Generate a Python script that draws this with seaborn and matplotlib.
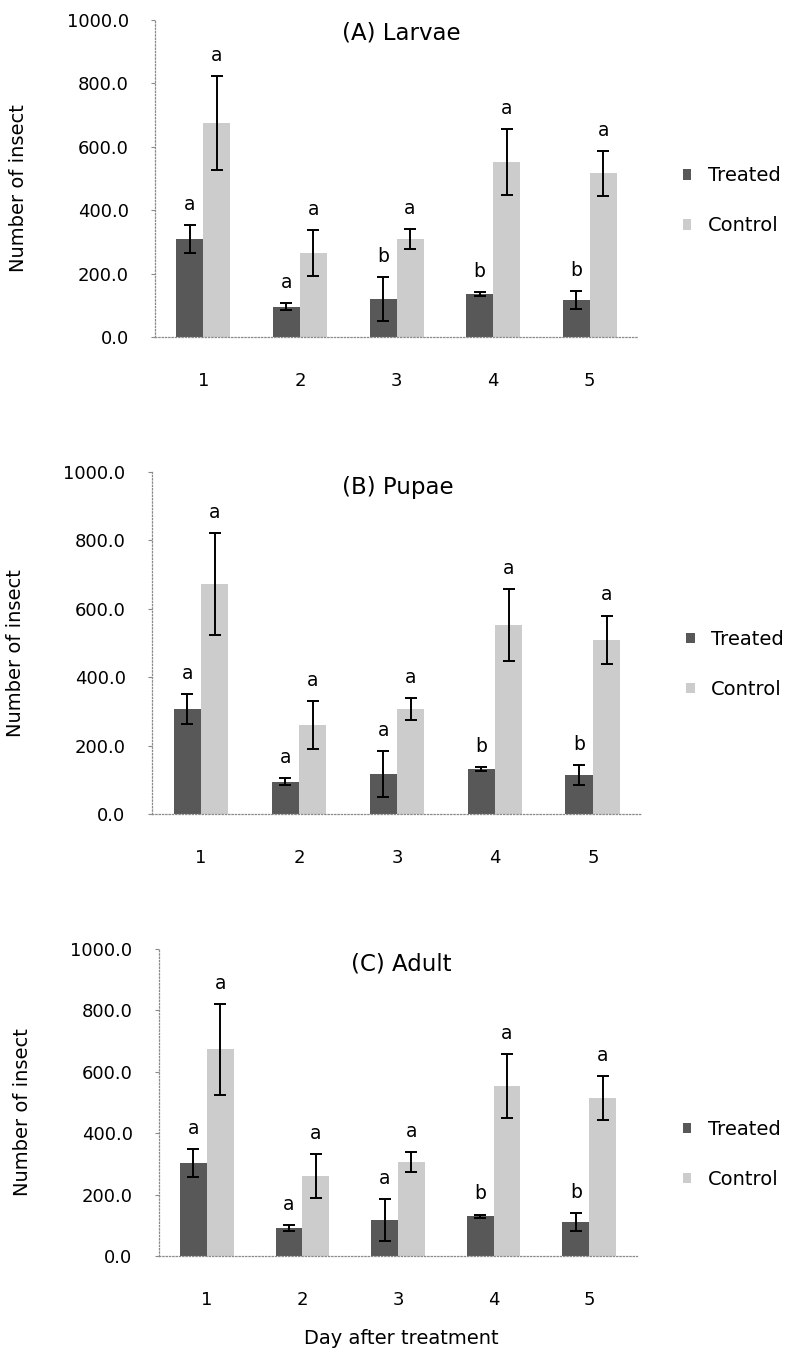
import numpy as np
import pandas as pd
import matplotlib
matplotlib.use("Agg")
import matplotlib.pyplot as plt
import seaborn as sns

sns.set_style("white")
plt.rcParams["font.family"] = ["DejaVu Sans"]
plt.rcParams["text.color"] = "black"
plt.rcParams["axes.labelcolor"] = "black"

days = ["1", "2", "3", "4", "5"]
groups = ["Treated", "Control"]

# (A) Larvae
larvae_treated = [309, 95, 120, 136, 117]
larvae_treated_se = [43, 11, 69, 6, 29]
larvae_control = [675, 265, 309, 552, 517]
larvae_control_se = [148, 72, 32, 103, 71]
larvae_treated_letters = ["a", "a", "b", "b", "b"]
larvae_control_letters = ["a", "a", "a", "a", "a"]

# (B) Pupae
pupae_treated = [307, 94, 117, 131, 114]
pupae_treated_se = [44, 10, 67, 5, 30]
pupae_control = [672, 260, 307, 553, 509]
pupae_control_se = [148, 70, 32, 105, 71]
pupae_treated_letters = ["a", "a", "a", "b", "b"]
pupae_control_letters = ["a", "a", "a", "a", "a"]

# (C) Adult
adult_treated = [303, 91, 117, 130, 111]
adult_treated_se = [45, 11, 68, 5, 29]
adult_control = [674, 261, 306, 554, 515]
adult_control_se = [148, 72, 33, 105, 72]
adult_treated_letters = ["a", "a", "a", "b", "b"]
adult_control_letters = ["a", "a", "a", "a", "a"]

yticks = [0, 200, 400, 600, 800, 1000]

panels = [
    dict(title="(A) Larvae", rect=[0.1965, 0.7509, 0.6122, 0.2343], title_xy=(0.509, 0.958),
         t=larvae_treated, tse=larvae_treated_se, c=larvae_control, cse=larvae_control_se,
         tl=larvae_treated_letters, cl=larvae_control_letters, ylab=(-0.263, 0.47),
         leg=(0.843, 0.8515)),
    dict(title="(B) Pupae", rect=[0.1926, 0.3984, 0.6210, 0.2528], title_xy=(0.502, 0.955),
         t=pupae_treated, tse=pupae_treated_se, c=pupae_control, cse=pupae_control_se,
         tl=pupae_treated_letters, cl=pupae_control_letters, ylab=(-0.259, 0.47),
         leg=(0.847, 0.509)),
    dict(title="(C) Adult", rect=[0.2015, 0.0717, 0.6058, 0.2269], title_xy=(0.506, 0.952),
         t=adult_treated, tse=adult_treated_se, c=adult_control, cse=adult_control_se,
         tl=adult_treated_letters, cl=adult_control_letters, ylab=(-0.266, 0.47),
         leg=(0.843, 0.1468)),
]

palette = {"Treated": "#585858", "Control": "#cccccc"}
axis_grey = "#8a8a8a"

fig = plt.figure(figsize=(7.89, 13.53), dpi=100)

for p in panels:
    ax = fig.add_axes(p["rect"])
    df = pd.DataFrame({
        "day": days * 2,
        "group": ["Treated"] * 5 + ["Control"] * 5,
        "value": list(p["t"]) + list(p["c"]),
    })
    sns.barplot(data=df, x="day", y="value", hue="group", order=days,
                hue_order=groups, palette=palette, width=0.56, gap=0,
                errorbar=None, saturation=1, linewidth=0, ax=ax)

    errs = [p["tse"], p["cse"]]
    vals = [p["t"], p["c"]]
    letters = [p["tl"], p["cl"]]
    for cont, v, e, lt in zip(ax.containers, vals, errs, letters):
        xs = [b.get_x() + b.get_width() / 2 for b in cont]
        ax.errorbar(xs, v, yerr=e, fmt="none", ecolor="black",
                    elinewidth=1.4, capsize=4, capthick=1.4, zorder=5)
        for x, yv, ye, s in zip(xs, v, e, lt):
            ax.annotate(s, (x, yv + ye), xytext=(0, 8), textcoords="offset points",
                        ha="center", va="bottom", fontsize=13.5)

    ax.set_xlim(-0.5, 4.5)
    ax.set_ylim(0, 1000)
    ax.set_yticks(yticks)
    ax.set_yticklabels([f"{v:.1f}" for v in yticks], fontsize=13)
    ax.set_xticks(range(5))
    ax.set_xticklabels(days, fontsize=13)
    ax.set_xticks(np.arange(-0.5, 5.0, 1.0), minor=True)
    ax.tick_params(axis="x", which="major", length=0, pad=25, labelcolor="black")
    ax.tick_params(axis="x", which="minor", length=5, width=0.8,
                   color=axis_grey, direction="out")
    ax.tick_params(axis="y", which="major", length=3, width=0.8,
                   color=axis_grey, labelcolor="black", direction="out",
                   pad=16, left=True)

    for side in ["top", "right"]:
        ax.spines[side].set_visible(False)
    for side in ["left", "bottom"]:
        ax.spines[side].set_linestyle(":")
        ax.spines[side].set_color(axis_grey)
        ax.spines[side].set_linewidth(0.9)

    ax.set_xlabel("")
    ax.set_ylabel("Number of insect", fontsize=14)
    ax.yaxis.set_label_coords(*p["ylab"])
    ax.text(*p["title_xy"], p["title"], transform=ax.transAxes,
            ha="center", va="center", fontsize=16.5)

    sns.move_legend(ax, "center left", bbox_to_anchor=p["leg"],
                    bbox_transform=fig.transFigure,
                    frameon=False, title=None, fontsize=14,
                    handlelength=0.45, handleheight=0.45, handletextpad=0.85,
                    labelspacing=1.6)

fig.text(401 / 789, 1 - 1338 / 1353, "Day after treatment",
         ha="center", va="center", fontsize=14)

fig.savefig("out.png", dpi=100)
